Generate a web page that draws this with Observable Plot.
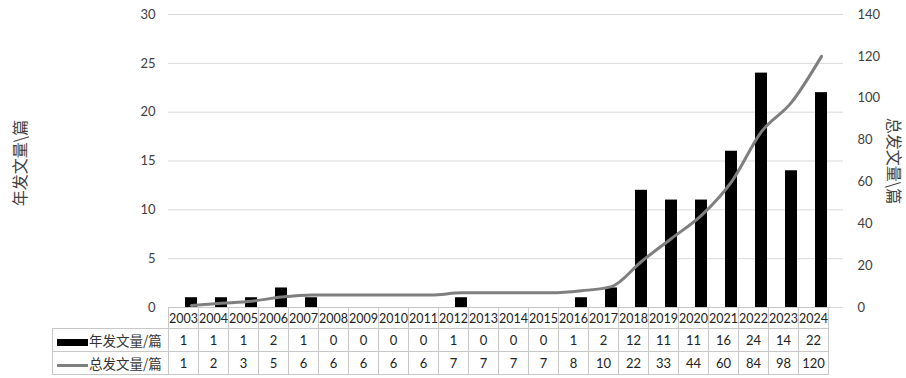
<!DOCTYPE html>
<html><head><meta charset="utf-8">
<script src="https://cdn.jsdelivr.net/npm/d3@7"></script>
<script src="https://cdn.jsdelivr.net/npm/@observablehq/plot@0.6"></script>
<style>
body{margin:0;background:#fff;}
#wrap{position:relative;width:906px;height:378px;overflow:hidden;font-family:Lato,"Noto Sans CJK SC",sans-serif;background:#fff;}
#wrap svg{position:absolute;left:0;top:0;}
#tbl{position:absolute;border-collapse:collapse;table-layout:fixed;}
#tbl td{border:1px solid #c8c8c8;padding:0;text-align:center;font-size:13px;color:#222;overflow:hidden;white-space:nowrap;}
#tbl tr.yr td{font-size:12.5px;}
#tbl td.blank{border:none;}
#tbl td.leg{text-align:left;padding-left:4px;font-size:13.5px;font-family:"Noto Sans CJK SC",sans-serif;color:#333;}
.sw{display:inline-block;width:31px;vertical-align:middle;margin-right:1px;}
</style></head>
<body><div id="wrap"></div>
<script>
const years = ["2003","2004","2005","2006","2007","2008","2009","2010","2011","2012","2013","2014","2015","2016","2017","2018","2019","2020","2021","2022","2023","2024"];
const annual = [1,1,1,2,1,0,0,0,0,1,0,0,0,1,2,12,11,11,16,24,14,22];
const total = [1,2,3,5,6,6,6,6,6,7,7,7,7,8,10,22,33,44,60,84,98,120];
const leftTicks = [0,5,10,15,20,25,30];
const rightTicks = [0,20,40,60,80,100,120,140];
const seriesNames = ["年发文量/篇","总发文量/篇"];
const axisTitles = ["年发文量\\篇","总发文量\\篇"];
const leftMax = 30, rightMax = 140;
const k = leftMax / rightMax;
const data = years.map((y,i)=>({year:y, annual:annual[i], total:total[i]}));

const W = 906, H = 378, mL = 168, mR = 63, mT = 14, mB = 71;
const chart = Plot.plot({
  width:W, height:H, marginTop:mT, marginBottom:mB, marginLeft:mL, marginRight:mR,
  style:{fontFamily:"Lato, 'Noto Sans CJK SC', sans-serif", fontSize:"13px", color:"#404040", background:"transparent", overflow:"visible"},
  x:{domain:years, paddingInner:0.6, paddingOuter:0.3, axis:null},
  y:{domain:[0,leftMax], axis:null},
  marks:[
    Plot.ruleY(leftTicks,{stroke:"#d9d9d9", strokeWidth:1}),
    Plot.barY(data,{x:"year", y:"annual", fill:"#000"}),
    Plot.line(data,{x:"year", y:d=>d.total*k, stroke:"#7f7f7f", strokeWidth:3, curve:"monotone-x"}),
    Plot.axisY(leftTicks,{anchor:"left", tickSize:0, tickPadding:13, label:null}),
    Plot.axisY(rightTicks.map(v=>v*k),{anchor:"right", tickSize:0, tickPadding:14, tickFormat:d=>String(Math.round(d/k)), label:null}),
    Plot.text([axisTitles[0]],{text:d=>d, frameAnchor:"left", textAnchor:"middle", dx:-148, dy:2, rotate:-90, fontSize:16, fontFamily:"Noto Sans CJK SC", fill:"#404040"}),
    Plot.text([axisTitles[1]],{text:d=>d, frameAnchor:"right", textAnchor:"middle", dx:50, dy:0, rotate:90, fontSize:16, fontFamily:"Noto Sans CJK SC", fill:"#404040"})
  ]
});
const wrap = document.getElementById("wrap");
wrap.appendChild(chart);

// data table aligned to the x band scale
const xs = chart.scale("x");
const step = xs.step;
const legW = 116;
const tbl = document.createElement("table");
tbl.id = "tbl";
tbl.style.left = (mL - legW) + "px";
tbl.style.top = (H - mB) + "px";
tbl.style.width = (legW + step*years.length) + "px";
let html = '<colgroup><col style="width:'+legW+'px">' + years.map(()=>'<col style="width:'+step+'px">').join("") + '</colgroup>';
html += '<tr class="yr" style="height:21px"><td class="blank"></td>' + years.map(y=>'<td>'+y+'</td>').join("") + '</tr>';
html += '<tr style="height:23px"><td class="leg"><span class="sw" style="height:7px;background:#000"></span>'+seriesNames[0]+'</td>' + annual.map(v=>'<td>'+v+'</td>').join("") + '</tr>';
html += '<tr style="height:23px"><td class="leg"><span class="sw" style="height:3px;background:#7f7f7f"></span>'+seriesNames[1]+'</td>' + total.map(v=>'<td>'+v+'</td>').join("") + '</tr>';
tbl.innerHTML = html;
wrap.appendChild(tbl);
</script>
</body></html>
